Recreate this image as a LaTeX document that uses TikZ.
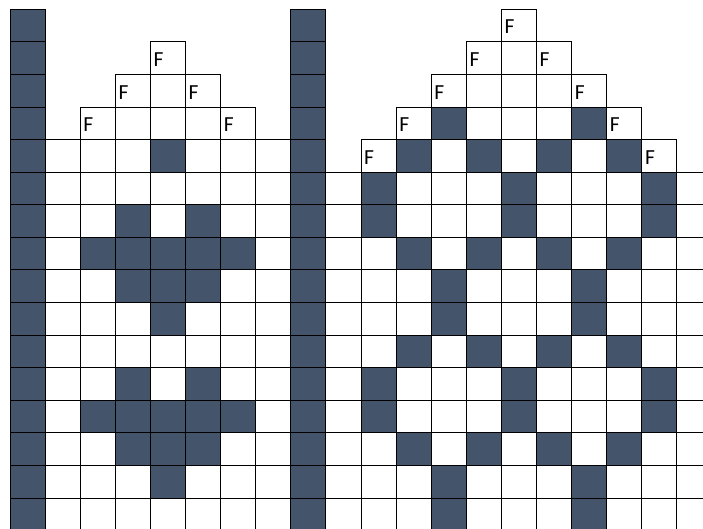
\documentclass[tikz,border=0pt]{standalone}
\usepackage{fontspec}
\setmainfont{Carlito}
\definecolor{cellblue}{HTML}{44546A}
\tikzset{
  cell/.style={draw=black, line width=0.9pt, fill=white, minimum width=35.1pt, minimum height=32.58pt, inner sep=0pt, outer sep=0pt, anchor=north west},
  darkcell/.style={cell, fill=cellblue},
  ftxt/.style={anchor=west, inner sep=0pt, xshift=3pt, yshift=-1.4pt, font=\fontsize{21.5}{21.5}\selectfont}
}
\newcommand{\cx}[1]{(10+35.1*#1)}
\begin{document}
\begin{tikzpicture}[x=1pt,y=-1pt]
\useasboundingbox (0,0) rectangle (703,529);
\clip (0,0) rectangle (703,529);
% dark pillars
\foreach \r in {0,...,15} {
  \node[darkcell] (A\r) at ({10+35.1*0},{9.3+32.58*\r}) {};
  \node[darkcell] (B\r) at ({10+35.1*8},{9.3+32.58*\r}) {};
}
% left figure: top rows
\foreach \r/\c in {1/4, 2/3,2/4,2/5, 3/2,3/3,3/4,3/5,3/6} {
  \node[cell] (L\r-\c) at ({10+35.1*\c},{9.3+32.58*\r}) {};
}
\foreach \r in {4,...,15} {
  \foreach \c in {1,...,7} {
    \node[cell] (L\r-\c) at ({10+35.1*\c},{9.3+32.58*\r}) {};
  }
}
% right figure: top rows
\foreach \r/\c in {0/14, 1/13,1/14,1/15, 2/12,2/13,2/14,2/15,2/16, 3/11,3/12,3/13,3/14,3/15,3/16,3/17, 4/10,4/11,4/12,4/13,4/14,4/15,4/16,4/17,4/18} {
  \node[cell] (R\r-\c) at ({10+35.1*\c},{9.3+32.58*\r}) {};
}
\foreach \r in {5,...,15} {
  \foreach \c in {9,...,19} {
    \node[cell] (R\r-\c) at ({10+35.1*\c},{9.3+32.58*\r}) {};
  }
}
% dark cells of the left figure
\foreach \r/\c in {4/4, 6/3,6/5, 7/2,7/3,7/4,7/5,7/6, 8/3,8/4,8/5, 9/4,
                   11/3,11/5, 12/2,12/3,12/4,12/5,12/6, 13/3,13/4,13/5, 14/4} {
  \node[darkcell] (LD\r-\c) at ({10+35.1*\c},{9.3+32.58*\r}) {};
}
% dark cells of the right figure
\foreach \r/\c in {3/12,3/16,
                   4/11,4/13,4/15,4/17,
                   5/10,5/14,5/18, 6/10,6/14,6/18,
                   7/11,7/13,7/15,7/17,
                   8/12,8/16, 9/12,9/16,
                   10/11,10/13,10/15,10/17,
                   11/10,11/14,11/18, 12/10,12/14,12/18,
                   13/11,13/13,13/15,13/17,
                   14/12,14/16, 15/12,15/16} {
  \node[darkcell] (RD\r-\c) at ({10+35.1*\c},{9.3+32.58*\r}) {};
}
% F labels
\foreach \n in {L1-4, L2-3, L2-5, L3-2, L3-6, R0-14, R1-13, R1-15, R2-12, R2-16, R3-11, R3-17, R4-10, R4-18} {
  \node[ftxt] (F\n) at (\n.west) {F};
}
\end{tikzpicture}
\end{document}
